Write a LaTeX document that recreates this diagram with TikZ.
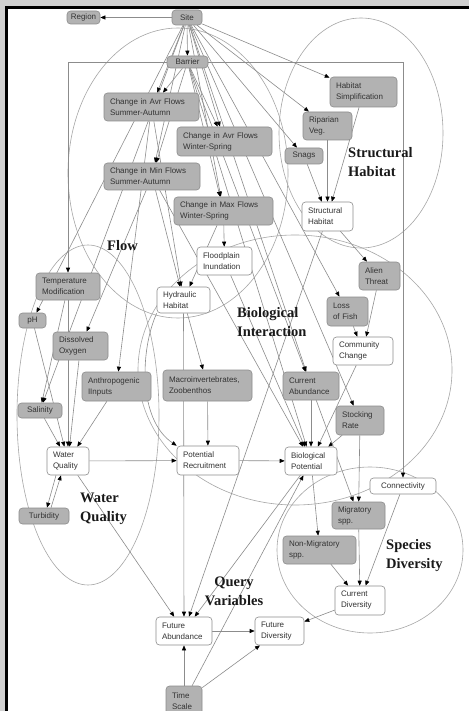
\documentclass[tikz,border=0pt]{standalone}
\usepackage{fontspec}
\setmainfont{Liberation Serif}
\setsansfont{Liberation Sans}
\usetikzlibrary{arrows.meta}
\pgfdeclarelayer{back}
\pgfdeclarelayer{bg}
\pgfsetlayers{back,bg,main}
\tikzset{
  bx/.style={rounded corners=3.5pt, draw=black!45, line width=0.6pt, inner sep=0pt,
    font=\sffamily\fontsize{8}{11}\selectfont, text=black!80},
  gbox/.style={bx, fill=black!30},
  wbox/.style={bx, fill=white},
  arr/.style={draw=black!45, line width=0.6pt, -{Triangle[length=5pt,width=4pt,color=black]}},
  ell/.style={draw=black!35, line width=0.6pt},
  grp/.style={font=\fontsize{14.5}{19}\selectfont\bfseries, inner sep=0pt, align=left, text=black!90},
}
% two-line node, left aligned text
\newcommand\bnode[7]{%
  \pgfmathsetmacro\bnW{#4-#2}%
  \pgfmathsetmacro\bnH{#5-#3}%
  \pgfmathsetmacro\bnT{#4-#2-12}%
  \pgfmathsetmacro\bnX{(#2+#4)/2}%
  \pgfmathsetmacro\bnY{(#3+#5)/2}%
  \node[#6, align=left, minimum width=\bnW pt, minimum height=\bnH pt, text width=\bnT pt] (#1) at (\bnX,\bnY) {#7};}
% one-line node, centred text
\newcommand\snode[7]{%
  \pgfmathsetmacro\bnW{#4-#2}%
  \pgfmathsetmacro\bnH{#5-#3}%
  \pgfmathsetmacro\bnT{#4-#2-4}%
  \pgfmathsetmacro\bnX{(#2+#4)/2}%
  \pgfmathsetmacro\bnY{(#3+#5)/2}%
  \node[#6, align=center, minimum width=\bnW pt, minimum height=\bnH pt, text width=\bnT pt] (#1) at (\bnX,\bnY) {#7};}
\begin{document}
\begin{tikzpicture}[x=1pt,y=-1pt]
\useasboundingbox (0,0) rectangle (469,711);
\begin{pgfonlayer}{back}
  \fill[white] (0,0) rectangle (469,711);
  \fill[black!18] (0,0) rectangle (469,6);
  \fill[black!18] (0,0) rectangle (5,711);
  \fill[black] (5,6) rectangle (469,9);
  \fill[black] (5,6) rectangle (8,711);
\end{pgfonlayer}

% nodes
\snode{region}{67}{11}{100}{24}{gbox}{Region}
\snode{site}{172}{10}{202}{25}{gbox}{Site}
\snode{barrier}{167}{56}{208}{68}{gbox}{Barrier}
\bnode{avrsa}{104}{93}{199}{121}{gbox}{Change in Avr Flows\\Summer-Autumn}
\bnode{avrws}{177}{127}{272}{156}{gbox}{Change in Avr Flows\\Winter-Spring}
\bnode{minsa}{104}{163}{200}{190}{gbox}{Change in Min Flows\\Summer-Autumn}
\bnode{maxws}{174}{197}{273}{225}{gbox}{Change in Max Flows\\Winter-Spring}
\bnode{habsimp}{330}{77}{397}{107}{gbox}{Habitat\\Simplification}
\bnode{riparian}{303}{112}{352}{140}{gbox}{Riparian\\Veg.}
\snode{snags}{285}{148}{323}{164}{gbox}{Snags}
\bnode{struct}{302}{202}{353}{231}{wbox}{Structural\\Habitat}
\bnode{alien}{359}{262}{400}{290}{gbox}{Alien\\Threat}
\bnode{lof}{327}{297}{368}{326}{gbox}{Loss\\of Fish}
\bnode{community}{333}{337}{393}{365}{wbox}{Community\\Change}
\bnode{flood}{197}{247}{252}{275}{wbox}{Floodplain\\Inundation}
\bnode{hydraulic}{157}{287}{210}{313}{wbox}{Hydraulic\\Habitat}
\bnode{temp}{36}{273}{100}{300}{gbox}{Temperature\\Modification}
\snode{ph}{19}{313}{46}{328}{gbox}{pH}
\bnode{do}{53}{332}{108}{360}{gbox}{Dissolved\\Oxygen}
\bnode{anthro}{82}{372}{151}{401}{gbox}{Anthropogenic\\IInputs}
\snode{salinity}{18}{403}{62}{418}{gbox}{Salinity}
\bnode{macro}{163}{370}{252}{401}{gbox}{Macroinvertebrates,\\Zoobenthos}
\bnode{ca}{283}{372}{339}{400}{gbox}{Current\\Abundance}
\bnode{stock}{336}{406}{384}{435}{gbox}{Stocking\\Rate}
\bnode{wq}{47}{447}{89}{475}{wbox}{Water\\Quality}
\bnode{pr}{177}{446}{239}{475}{wbox}{Potential\\Recruitment}
\bnode{bp}{285}{447}{337}{475}{wbox}{Biological\\Potential}
\snode{connect}{370}{478}{436}{494}{wbox}{Connectivity}
\snode{turb}{19}{508}{69}{524}{gbox}{Turbidity}
\bnode{mig}{332}{502}{385}{529}{gbox}{Migratory\\spp.}
\bnode{nonmig}{283}{536}{356}{564}{gbox}{Non-Migratory\\spp.}
\bnode{cd}{335}{586}{385}{615}{wbox}{Current\\Diversity}
\bnode{fa}{156}{617}{212}{645}{wbox}{Future\\Abundance}
\bnode{fd}{255}{617}{304}{645}{wbox}{Future\\Diversity}
\bnode{ts}{166}{686}{202}{716}{gbox}{Time\\Scale}

% group labels
\node[grp, anchor=north west] (lstruct) at (348,147) {Structural\\Habitat};
\node[grp, anchor=north west] (lflow) at (107,240) {Flow};
\node[grp, anchor=north west] (lbio) at (237,307) {Biological\\Interaction};
\node[grp, anchor=north west] (lwq) at (80,493) {Water\\Quality};
\node[grp, anchor=north, align=center] (lquery) at (234,577) {Query\\Variables};
\node[grp, anchor=north west] (lspec) at (386,539) {Species\\Diversity};

\begin{pgfonlayer}{bg}
  % group ellipses
  \draw[ell] (178,173) ellipse [x radius=110, y radius=145];
  \draw[ell] (361,133) ellipse [x radius=82, y radius=115];
  \draw[ell] (295,370) ellipse [x radius=157, y radius=135];
  \draw[ell] (88,415) ellipse [x radius=71, y radius=170];
  \draw[ell] (370,550) ellipse [x radius=93, y radius=83];

  % edges from Site and Barrier
  \draw[arr] (site) -- (region);
  \draw[arr] (site) -- (barrier);
  \draw[arr] (site) -- (avrsa);
  \draw[arr] (barrier) -- (avrsa);
  \draw[arr] (site) -- (avrws);
  \draw[arr] (barrier) -- (avrws);
  \draw[arr] (site) -- (minsa);
  \draw[arr] (barrier) -- (minsa);
  \draw[arr] (site) -- (maxws);
  \draw[arr] (barrier) -- (maxws);
  \draw[arr] (site) -- (habsimp);
  \draw[arr] (site) -- (riparian);
  \draw[arr] (site) -- (snags);
  \draw[arr] (site) -- (ph);
  \draw[arr] (site) -- (salinity);
  \draw[arr] (site) -- (lof);
  \draw[arr] (site) -- (ca);
  \draw[arr] (barrier) -- (ca);
  \draw[arr] (site) -- (stock);
  \draw[arr] (barrier) -- (bp);
  \draw[arr] (barrier.west) -| (temp.north);
  \draw[arr] (barrier.east) -| (connect.north);

  % structural habitat
  \draw[arr] (habsimp) -- (struct);
  \draw[arr] (riparian) -- (struct);
  \draw[arr] (snags) -- (struct);
  \draw[arr] (struct) -- (alien);
  \draw[arr] (struct) -- (fa);

  % flow
  \draw[arr] (maxws) -- (flood);
  \draw[arr] (avrsa) -- (hydraulic);
  \draw[arr] (minsa) -- (hydraulic);
  \draw[arr] (maxws) -- (hydraulic);
  \draw[arr] (minsa) -- (do);
  \draw[arr] (avrsa) -- (anthro);
  \draw[arr] (minsa) -- (bp);
  \draw[arr] (flood) -- (bp);

  % water quality
  \draw[arr] (temp) -- (salinity);
  \draw[arr] (temp) -- (wq);
  \draw[arr] (ph) -- (wq);
  \draw[arr] (salinity) -- (wq);
  \draw[arr] (do) -- (wq);
  \draw[arr] (anthro) -- (wq);
  \draw[arr] ([xshift=-12pt]wq.south) -- ([xshift=3pt]turb.north);
  \draw[arr] ([xshift=7pt]turb.north) -- ([xshift=-7pt]wq.south);
  \draw[arr] (wq) -- (pr);
  \draw[arr] (wq) -- (fa);

  % biological interaction
  \draw[arr] (hydraulic) -- (macro);
  \draw[arr] (macro) -- (pr);
  \draw[arr] (hydraulic) -- (fa);
  \draw[arr] (hydraulic.south west) .. controls (140,350) and (138,420) .. (pr.north west);
  \draw[arr] (pr) -- (bp);
  \draw[arr] (lof) -- (community);
  \draw[arr] (alien) -- (community);
  \draw[arr] (community) -- (bp);
  \draw[arr] (ca) -- (bp);
  \draw[arr] (stock) -- (bp);
  \draw[arr] (ca) -- (mig);
  \draw[arr] (stock) -- (mig);

  % species diversity
  \draw[arr] (bp) -- (nonmig);
  \draw[arr] (nonmig) -- (cd);
  \draw[arr] (mig) -- (cd);
  \draw[arr] (connect) -- (cd);

  % query variables
  \draw[arr] (cd) -- (fd);
  \draw[arr] (fa) -- (fd);
  \draw[arr] (bp) -- (fa);
  \draw[arr] (ts) -- (fa);
  \draw[arr] (ts) -- (fd);
  \draw[arr] (ts) -- (bp);
\end{pgfonlayer}
\end{tikzpicture}
\end{document}
